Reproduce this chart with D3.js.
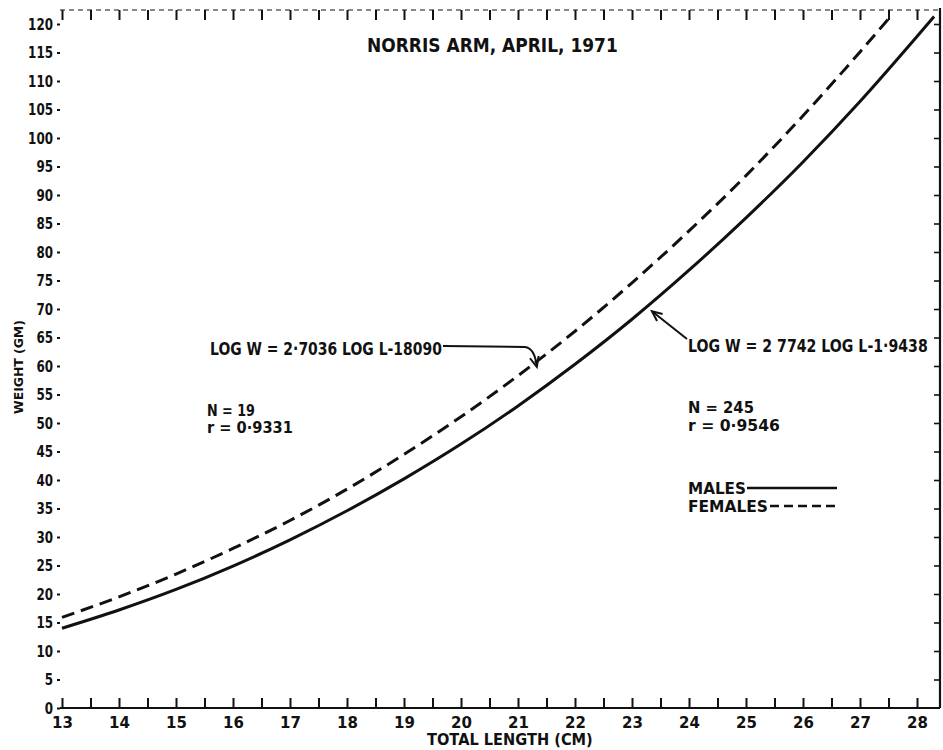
<!DOCTYPE html>
<html>
<head>
<meta charset="utf-8">
<script src="https://cdn.jsdelivr.net/npm/d3@7"></script>
<style>
  html, body { margin: 0; padding: 0; background: #fff; }
  svg { display: block; }
  text { font-family: "DejaVu Sans", "Liberation Sans", sans-serif; font-weight: bold; fill: #111; }
</style>
</head>
<body>
<svg id="chart" width="943" height="750"></svg>
<script>
// Length–weight relationship, Norris Arm, April 1971
const maleLength   = [13, 14, 15, 16, 17, 18, 19, 20, 21, 22, 23, 24, 25, 26, 27, 28, 28.3];
const maleWeight   = [14.0, 17.2, 20.8, 24.9, 29.5, 34.6, 40.2, 46.3, 53.0, 60.3, 68.2, 76.8, 86.0, 95.8, 106.4, 117.8, 121.3];
const femaleLength = [13, 14, 15, 16, 17, 18, 19, 20, 21, 22, 23, 24, 25, 26, 27, 27.5];
const femaleWeight = [15.9, 19.5, 23.5, 28.0, 32.9, 38.4, 44.5, 51.1, 58.3, 66.1, 74.6, 83.7, 93.4, 103.9, 115.1, 120.9];

const xLabelTicks = [13, 14, 15, 16, 17, 18, 19, 20, 21, 22, 23, 24, 25, 26, 27, 28];
const xMinorTicks = d3.range(13, 28.01, 0.5);
const yTicks = d3.range(0, 121, 5);

const titleText = "NORRIS ARM, APRIL, 1971";
const xTitle = "TOTAL LENGTH (CM)";
const yTitle = "WEIGHT (GM)";
const femaleEq = "LOG W = 2·7036 LOG L-18090";
const maleEq = "LOG W = 2 7742 LOG L-1·9438";
const femaleStats = ["N = 19", "r = 0·9331"];
const maleStats = ["N = 245", "r = 0·9546"];

const svg = d3.select("#chart");
const W = 943, H = 750;
svg.append("rect").attr("width", W).attr("height", H).attr("fill", "#fff");

const x = d3.scaleLinear().domain([13, 28]).range([62, 917]);
const y = d3.scaleLinear().domain([0, 120]).range([708, 24]);

const frameLeft = 60, frameRight = 940, frameTop = 10, frameBottom = y(0);

const ink = "#111";

// Lettering is narrow: draw at a size, then squeeze horizontally to the wanted width.
function label(parent, str, px, py, size, width, anchor) {
  const g = parent.append("g");
  const t = g.append("text").attr("font-size", size).text(str);
  const natural = t.node().getComputedTextLength();
  const sx = width / natural;
  const x0 = anchor === "middle" ? px - width / 2 : px;
  g.attr("transform", `translate(${x0},${py}) scale(${sx},1)`);
  return g;
}

// frame: bottom axis
const xAxis = d3.axisBottom(x).tickValues(xMinorTicks).tickSize(-10).tickFormat("");
const gx = svg.append("g").attr("transform", `translate(0,${frameBottom})`).call(xAxis);
gx.select(".domain").remove();
gx.selectAll(".tick line").attr("stroke", ink).attr("stroke-width", 2);
svg.append("line").attr("x1", frameLeft).attr("x2", frameRight).attr("y1", frameBottom).attr("y2", frameBottom)
  .attr("stroke", ink).attr("stroke-width", 2.2);

const gxl = svg.append("g").attr("transform", `translate(0,${frameBottom})`)
  .call(d3.axisBottom(x).tickValues(xLabelTicks).tickSize(0).tickPadding(9).tickFormat(d3.format("d")));
gxl.select(".domain").remove();
gxl.selectAll("text").attr("font-size", 15).attr("fill", ink)
  .style("font-family", '"DejaVu Sans", sans-serif').style("font-weight", "bold");

// frame: top edge with ticks hanging down
svg.append("line").attr("x1", frameLeft).attr("x2", frameRight).attr("y1", frameTop).attr("y2", frameTop)
  .attr("stroke", ink).attr("stroke-width", 1).attr("stroke-dasharray", "5,4");
const gt = svg.append("g").attr("transform", `translate(0,${frameTop})`)
  .call(d3.axisTop(x).tickValues(xMinorTicks).tickSize(-10).tickFormat(""));
gt.select(".domain").remove();
gt.selectAll(".tick line").attr("stroke", ink).attr("stroke-width", 2);

// frame: right edge with ticks pointing in
svg.append("line").attr("x1", frameRight).attr("x2", frameRight).attr("y1", frameTop - 2).attr("y2", frameBottom)
  .attr("stroke", ink).attr("stroke-width", 2.2);
const gr = svg.append("g").attr("transform", `translate(${frameRight},0)`)
  .call(d3.axisRight(y).tickValues(yTicks.filter(d => d > 0)).tickSize(-6).tickFormat(""));
gr.select(".domain").remove();
gr.selectAll(".tick line").attr("stroke", ink).attr("stroke-width", 1.6);

// left axis: labels with small ticks, no spine
const gy = svg.append("g").attr("transform", `translate(${frameLeft},0)`)
  .call(d3.axisLeft(y).tickValues(yTicks).tickSize(3).tickPadding(4).tickFormat(d3.format("d")));
gy.select(".domain").remove();
gy.selectAll(".tick line").attr("stroke", ink).attr("stroke-width", 2);
gy.selectAll("text").attr("font-size", 15).attr("fill", ink).attr("dy", "0.36em")
  .style("font-family", '"DejaVu Sans", sans-serif').style("font-weight", "bold")
  .attr("textLength", d => String(d).length * 8.3).attr("lengthAdjust", "spacingAndGlyphs");

// axis titles
label(svg, xTitle, 510, 745, 16, 166, "middle");
const yt = svg.append("g").attr("transform", "translate(23,367) rotate(-90)");
label(yt, yTitle, 0, 0, 12, 94, "middle");

// title
label(svg, titleText, 367, 52, 20, 251);

// curves
svg.append("clipPath").attr("id", "plotclip").append("rect")
  .attr("x", frameLeft).attr("y", frameTop).attr("width", frameRight - frameLeft).attr("height", frameBottom - frameTop);
const line = d3.line().x(d => x(d[0])).y(d => y(d[1])).curve(d3.curveMonotoneX);
const males = maleLength.map((l, i) => [l, maleWeight[i]]);
const females = femaleLength.map((l, i) => [l, femaleWeight[i]]);
const curves = svg.append("g").attr("clip-path", "url(#plotclip)");
curves.append("path").datum(males).attr("d", line)
  .attr("fill", "none").attr("stroke", ink).attr("stroke-width", 3);
curves.append("path").datum(females).attr("d", line)
  .attr("fill", "none").attr("stroke", ink).attr("stroke-width", 3).attr("stroke-dasharray", "13,7");

// open arrowhead drawn at a tip, pointing along angle (radians)
function arrowHead(g, tx, ty, ang) {
  const len = 11, spread = 0.42;
  const p1 = [tx - len * Math.cos(ang - spread), ty - len * Math.sin(ang - spread)];
  const p2 = [tx - len * Math.cos(ang + spread), ty - len * Math.sin(ang + spread)];
  g.append("path").attr("d", `M${p1[0]},${p1[1]}L${tx},${ty}L${p2[0]},${p2[1]}`)
    .attr("fill", "none").attr("stroke", ink).attr("stroke-width", 2);
}

const ann = svg.append("g");

// female regression equation with arrow to the dashed curve
label(ann, femaleEq, 210, 355, 17, 232);
const fTip = [x(21.33), y(60.2) + 2];
ann.append("path")
  .attr("d", `M443,346 L${fTip[0] - 12},347 Q${fTip[0] - 2},348 ${fTip[0]},${fTip[1]}`)
  .attr("fill", "none").attr("stroke", ink).attr("stroke-width", 2);
arrowHead(ann, fTip[0], fTip[1], Math.PI * 0.42);

label(ann, femaleStats[0], 207, 416, 15, 48);
label(ann, femaleStats[1], 207, 433, 15, 86);

// male regression equation with arrow to the solid curve
label(ann, maleEq, 688, 352, 17, 240);
const mTip = [x(23.35), y(69.6)];
ann.append("line").attr("x1", 687).attr("y1", 339).attr("x2", mTip[0]).attr("y2", mTip[1])
  .attr("stroke", ink).attr("stroke-width", 2);
arrowHead(ann, mTip[0], mTip[1], Math.atan2(mTip[1] - 339, mTip[0] - 687));

label(ann, maleStats[0], 688, 413, 15, 66);
label(ann, maleStats[1], 688, 431, 15, 92);

// legend
const legend = svg.append("g");
label(legend, "MALES", 688, 494, 16, 58);
legend.append("line").attr("x1", 747).attr("x2", 837).attr("y1", 488).attr("y2", 488)
  .attr("stroke", ink).attr("stroke-width", 2.4);
label(legend, "FEMALES", 688, 512, 16, 80);
legend.append("line").attr("x1", 770).attr("x2", 837).attr("y1", 506).attr("y2", 506)
  .attr("stroke", ink).attr("stroke-width", 2.4).attr("stroke-dasharray", "9,5");
</script>
</body>
</html>
